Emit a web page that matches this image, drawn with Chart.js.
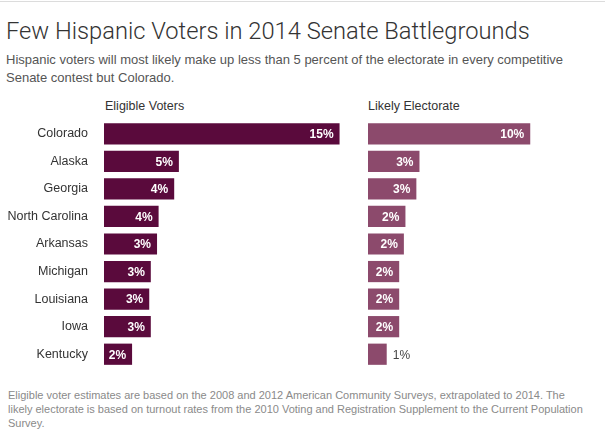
<!DOCTYPE html>
<html>
<head>
<meta charset="utf-8">
<script src="https://cdn.jsdelivr.net/npm/chart.js@4/dist/chart.umd.min.js"></script>
<style>
  body { margin: 0; background: #fff; width: 605px; height: 445px; position: relative; overflow: hidden; font-family: "Liberation Sans", Arial, sans-serif; }
  .rule { position: absolute; left: 0; top: 1px; width: 605px; height: 1px; background: #dcdcdc; }
  .title { position: absolute; left: 6px; top: 17px; font-family: Roboto, "Liberation Sans", sans-serif; font-weight: 300; font-size: 23.7px; line-height: 28px; color: #333; white-space: nowrap; }
  .sub { position: absolute; left: 6px; top: 51px; font-size: 13px; line-height: 18px; color: #555; white-space: nowrap; }
  .panel-head { position: absolute; top: 99px; font-size: 12.5px; line-height: 15px; color: #333; white-space: nowrap; }
  .note { position: absolute; left: 8px; top: 388px; font-size: 11px; line-height: 14px; color: #8a8a8a; white-space: nowrap; }
  canvas { position: absolute; top: 120px; }
</style>
</head>
<body>
<div class="rule"></div>
<div class="title">Few Hispanic Voters in 2014 Senate Battlegrounds</div>
<div class="sub">Hispanic voters will most likely make up less than 5 percent of the electorate in every competitive<br>Senate contest but Colorado.</div>
<div class="panel-head" style="left:105px">Eligible Voters</div>
<div class="panel-head" style="left:368px">Likely Electorate</div>
<canvas id="leftChart" width="344" height="248" style="left:0"></canvas>
<canvas id="rightChart" width="200" height="248" style="left:368px"></canvas>
<div class="note">Eligible voter estimates are based on the 2008 and 2012 American Community Surveys, extrapolated to 2014. The<br>likely electorate is based on turnout rates from the 2010 Voting and Registration Supplement to the Current Population<br>Survey.</div>

<script>
const states = ['Colorado', 'Alaska', 'Georgia', 'North Carolina', 'Arkansas', 'Michigan', 'Louisiana', 'Iowa', 'Kentucky'];
const eligibleVoters = [15.1, 4.8, 4.5, 3.5, 3.4, 3.0, 2.9, 3.0, 1.8];
const eligibleLabels = ['15%', '5%', '4%', '4%', '3%', '3%', '3%', '3%', '2%'];
const likelyElectorate = [10.4, 3.3, 3.1, 2.4, 2.3, 2.0, 2.0, 2.0, 1.2];
const likelyLabels = ['10%', '3%', '3%', '2%', '2%', '2%', '2%', '2%', '1%'];

// both panels share one scale, about 15.6 px per percentage point
const pxPerPoint = 15.6;

const valueLabels = {
    id: 'valueLabels',
    afterDatasetsDraw(chart) {
        const ctx = chart.ctx;
        const ds = chart.data.datasets[0];
        const meta = chart.getDatasetMeta(0);
        ctx.save();
        ctx.textBaseline = 'middle';
        meta.data.forEach((bar, i) => {
            const txt = ds.valueLabels[i];
            ctx.font = 'bold 12px "Liberation Sans", Arial, sans-serif';
            const w = ctx.measureText(txt).width;
            const barW = bar.x - bar.base;
            if (w + 9 <= barW) {
                ctx.fillStyle = '#fff';
                ctx.textAlign = 'right';
                ctx.fillText(txt, bar.x - 6, bar.y + 1);
            } else {
                ctx.font = '12px "Liberation Sans", Arial, sans-serif';
                ctx.fillStyle = '#444';
                ctx.textAlign = 'left';
                ctx.fillText(txt, bar.x + 6, bar.y + 1);
            }
        });
        ctx.restore();
    }
};

function makeChart(id, values, labels, color, areaWidth, showStates) {
    const ctx = document.getElementById(id).getContext('2d');
    return new Chart(ctx, {
        type: 'bar',
        data: {
            labels: states,
            datasets: [{
                data: values,
                valueLabels: labels,
                backgroundColor: color,
                borderWidth: 0,
                barPercentage: 0.77,
                categoryPercentage: 1
            }]
        },
        options: {
            indexAxis: 'y',
            responsive: false,
            animation: false,
            layout: { padding: 0 },
            scales: {
                x: {
                    display: false,
                    min: 0,
                    max: areaWidth / pxPerPoint
                },
                y: {
                    display: showStates,
                    grid: { display: false, drawTicks: false },
                    border: { display: false },
                    ticks: {
                        color: '#333',
                        padding: 16,
                        font: { family: '"Liberation Sans", Arial, sans-serif', size: 12.5 }
                    },
                    afterFit(scale) {
                        if (!showStates) return;
                        scale.width = 104;
                        scale.paddingTop = 0;
                        scale.paddingBottom = 0;
                    }
                }
            },
            plugins: {
                legend: { display: false },
                tooltip: { enabled: false }
            }
        },
        plugins: [valueLabels]
    });
}

makeChart('leftChart', eligibleVoters, eligibleLabels, '#5a0a3c', 240, true);
makeChart('rightChart', likelyElectorate, likelyLabels, '#8c4a6c', 200, false);
</script>
</body>
</html>
